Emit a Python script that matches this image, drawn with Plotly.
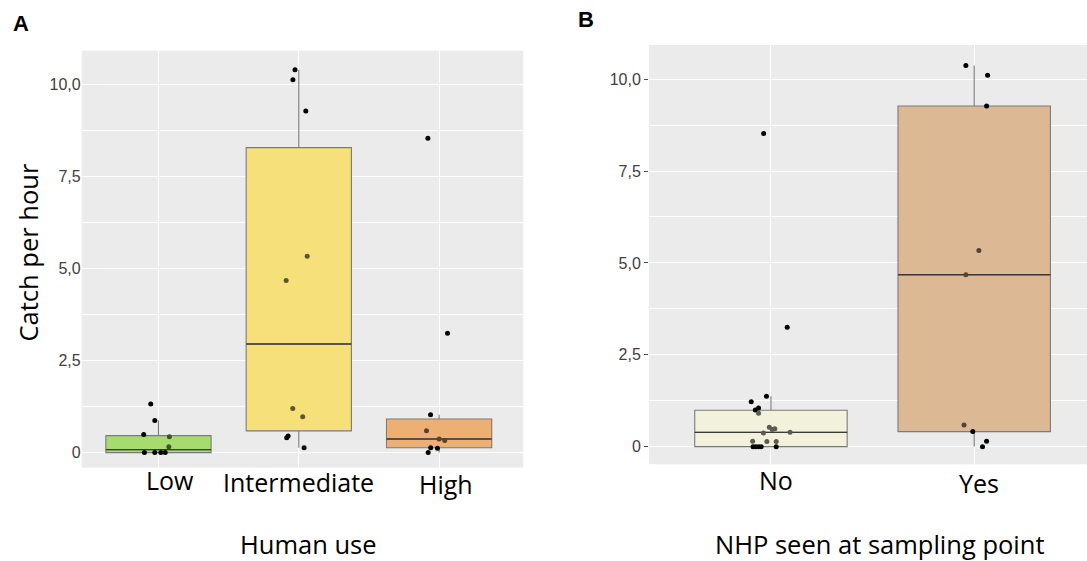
import plotly.graph_objects as go

# ---------------- data ----------------
human_use_categories = ["Low", "Intermediate", "High"]
nhp_categories = ["No", "Yes"]

low_values = [1.32, 0.87, 0.49, 0.43, 0.16, 0.0, 0.0, 0.0, 0.0]
low_jitter = [-0.055, -0.026, -0.105, 0.078, 0.074, -0.10, -0.026, 0.017, 0.048]
intermediate_values = [10.39, 10.12, 9.27, 5.33, 4.67, 1.20, 0.97, 0.45, 0.40, 0.13]
intermediate_jitter = [-0.027, -0.042, 0.05, 0.06, -0.09, -0.043, 0.028, -0.076, -0.086, 0.038]
high_values = [8.53, 3.24, 1.03, 0.59, 0.37, 0.33, 0.13, 0.12, 0.0]
high_jitter = [-0.08, 0.06, -0.061, -0.09, 0.0, 0.04, -0.06, -0.012, -0.078]

no_values = [8.52, 3.25, 1.37, 1.22, 1.05, 1.00, 0.91, 0.53, 0.49, 0.47, 0.39, 0.37,
             0.15, 0.14, 0.14, 0.0, 0.0, 0.0, 0.0, 0.0]
no_jitter = [-0.036, 0.08, -0.022, -0.097, -0.061, -0.077, -0.061, -0.008, 0.019, 0.006, 0.094, -0.037,
             -0.09, -0.02, 0.026, -0.088, -0.075, -0.061, -0.048, 0.026]
yes_values = [10.37, 10.11, 9.27, 5.34, 4.68, 0.59, 0.41, 0.15, 0.0]
yes_jitter = [-0.041, 0.066, 0.061, 0.023, -0.041, -0.05, -0.007, 0.061, 0.041]

# box statistics: q1, median, q3, lower whisker, upper whisker
low_box = [0.0, 0.08, 0.46, 0.0, 0.87]
intermediate_box = [0.59, 2.95, 8.28, 0.13, 10.39]
high_box = [0.13, 0.37, 0.91, 0.0, 1.03]
no_box = [0.0, 0.39, 0.99, 0.0, 1.37]
yes_box = [0.41, 4.68, 9.27, 0.0, 10.37]

y_tick_values = [0, 2.5, 5, 7.5, 10]
y_tick_labels = ["0", "2,5", "5,0", "7,5", "10,0"]
y_minor_values = [1.25, 3.75, 6.25, 8.75]

# ---------------- styling ----------------
W, H = 1087, 561
BG = "#EBEBEB"
colors_a = ["#a6dc6e", "#f5e07a", "#ecb074"]
colors_b = ["#f2f1dc", "#dcb894"]
BIG_FONT = "Open Sans"
TICK_FONT = dict(family="Liberation Sans", size=16, color="#404040")


def px_x(x):
    return x / W


def px_y(y):
    return 1 - y / H


def darken(hexcol, f):
    h = hexcol.lstrip("#")
    r, g, b = (int(h[i:i + 2], 16) for i in (0, 2, 4))
    return "rgb(%d,%d,%d)" % (r * f, g * f, b * f)


fig = go.Figure()


def add_group(pos, values, jitter, stats, color, xa, ya):
    q1, med, q3, lf, uf = stats
    fig.add_trace(go.Box(
        x=[pos], q1=[q1], median=[med], q3=[q3], lowerfence=[lf], upperfence=[uf],
        width=0.75, boxpoints=False, whiskerwidth=0, fillcolor=color,
        line=dict(color="#7a7a7a", width=1.1), xaxis=xa, yaxis=ya,
        showlegend=False, hoverinfo="skip"))
    # darker median line
    fig.add_trace(go.Box(
        x=[pos], q1=[med], median=[med], q3=[med], lowerfence=[med], upperfence=[med],
        width=0.75, boxpoints=False, whiskerwidth=0, fillcolor="rgba(0,0,0,0)",
        line=dict(color="#3a3a3a", width=1.4), xaxis=xa, yaxis=ya,
        showlegend=False, hoverinfo="skip"))
    pt_colors = [darken(color, 0.38) if q1 < v < q3 else "black" for v in values]
    fig.add_trace(go.Scatter(
        x=[pos + j for j in jitter], y=values, mode="markers",
        marker=dict(size=5, color=pt_colors, line=dict(width=0)),
        xaxis=xa, yaxis=ya, showlegend=False, hoverinfo="skip"))


add_group(0, low_values, low_jitter, low_box, colors_a[0], "x", "y")
add_group(1, intermediate_values, intermediate_jitter, intermediate_box, colors_a[1], "x", "y")
add_group(2, high_values, high_jitter, high_box, colors_a[2], "x", "y")
add_group(0, no_values, no_jitter, no_box, colors_b[0], "x2", "y2")
add_group(1, yes_values, yes_jitter, yes_box, colors_b[1], "x2", "y2")

common_x = dict(showgrid=True, gridcolor="white", gridwidth=1.1, zeroline=False,
                showticklabels=False, ticks="", showline=False)
common_y = dict(showgrid=True, gridcolor="white", gridwidth=1.2, zeroline=False,
                tickvals=y_tick_values, ticktext=y_tick_labels, tickfont=TICK_FONT,
                showline=False,
                minor=dict(tickvals=y_minor_values, showgrid=True, gridcolor="white",
                           gridwidth=0.6, ticks=""))

fig.update_layout(
    width=W, height=H, margin=dict(l=0, r=0, t=0, b=0),
    paper_bgcolor="white", plot_bgcolor=BG, boxmode="overlay",
    xaxis=dict(domain=[px_x(81.7), px_x(523.3)], range=[-0.547, 2.6],
               tickvals=[0, 1, 2], anchor="y", **common_x),
    yaxis=dict(domain=[px_y(467.7), px_y(50.7)], range=[-0.41, 10.91], anchor="x",
               ticks="", **common_y),
    xaxis2=dict(domain=[px_x(649), 1.0], range=[-0.6, 1.555],
                tickvals=[0, 1], anchor="y2", **common_x),
    yaxis2=dict(domain=[px_y(464.3), px_y(45)], range=[-0.48, 10.93], anchor="x2",
                ticks="outside", ticklen=4, tickcolor="#4d4d4d", **common_y),
)

ann = []


def text(x, y, s, size, family=BIG_FONT, angle=0):
    ann.append(dict(x=px_x(x), y=px_y(y), xref="paper", yref="paper", text=s,
                    showarrow=False, xanchor="center", yanchor="middle", textangle=angle,
                    font=dict(family=family, size=size, color="black")))


# category labels
text(170, 480, human_use_categories[0], 25)
text(298, 482, human_use_categories[1], 25)
text(446, 484, human_use_categories[2], 25)
text(776, 480, nhp_categories[0], 25)
text(979, 483, nhp_categories[1], 25)
# axis titles
text(308, 544, "Human use", 25.5)
text(880, 544, "NHP seen at sampling point", 25.5)
text(27.5, 253, "Catch per hour", 25.5, angle=-90)
# panel letters
text(21, 23, "<b>A</b>", 22, family="Liberation Sans")
text(586, 20, "<b>B</b>", 22, family="Liberation Sans")

fig.update_layout(annotations=ann)
fig.write_html("out.html", config={"displayModeBar": False},
               post_script="document.body.style.margin='0';")
